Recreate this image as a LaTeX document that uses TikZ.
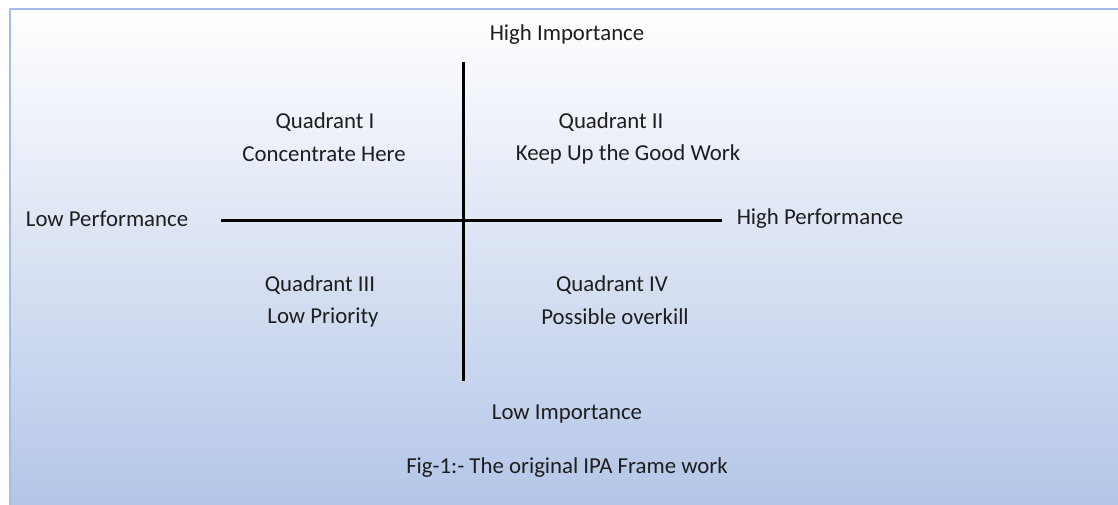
\documentclass[tikz,border=0pt]{standalone}
\usepackage{fontspec}
\setmainfont{Carlito}
\definecolor{bgbot}{HTML}{B3C5E7}
\definecolor{edge}{HTML}{A6BCE8}
\definecolor{txt}{HTML}{1E1E1E}
\begin{document}
\begin{tikzpicture}[x=1pt,y=-1pt,
  lbl/.style={font=\fontsize{22.8}{27}\selectfont, text=txt, inner sep=0pt, align=center},
  axis/.style={line width=3pt, draw=black}]
\useasboundingbox (0,0) rectangle (1118,505);
\fill[white] (0,0) rectangle (1118,505);
\shade[top color=white, bottom color=bgbot] (10,9) rectangle (1135,510);
\draw[edge, line width=2pt] (10,515) -- (10,9) -- (1135,9);
% axes
\coordinate (vt) at (463,62);
\coordinate (vb) at (463,381);
\coordinate (hl) at (221,220);
\coordinate (hr) at (722,220);
\draw[axis] (vt) -- (vb);
\draw[axis] (hl) -- (hr);
% labels
\node[lbl] (hi) at (567,35) {High Importance};
\node[lbl] (lo) at (567,414) {Low Importance};
\node[lbl] (lp) at (107,219) {Low Performance};
\node[lbl] (hp) at (820,219) {High Performance};
\node[lbl] (q1a) at (325,122) {Quadrant I};
\node[lbl] (q1b) at (324,154) {Concentrate Here};
\node[lbl] (q2a) at (611,122) {Quadrant II};
\node[lbl] (q2b) at (628,154) {Keep Up the Good Work};
\node[lbl] (q3a) at (320,285) {Quadrant III};
\node[lbl] (q3b) at (323,317) {Low Priority};
\node[lbl] (q4a) at (612,285) {Quadrant IV};
\node[lbl] (q4b) at (615,317) {Possible overkill};
\node[lbl] (fig) at (567,468) {Fig-1:- The original IPA Frame work};
\end{tikzpicture}
\end{document}
